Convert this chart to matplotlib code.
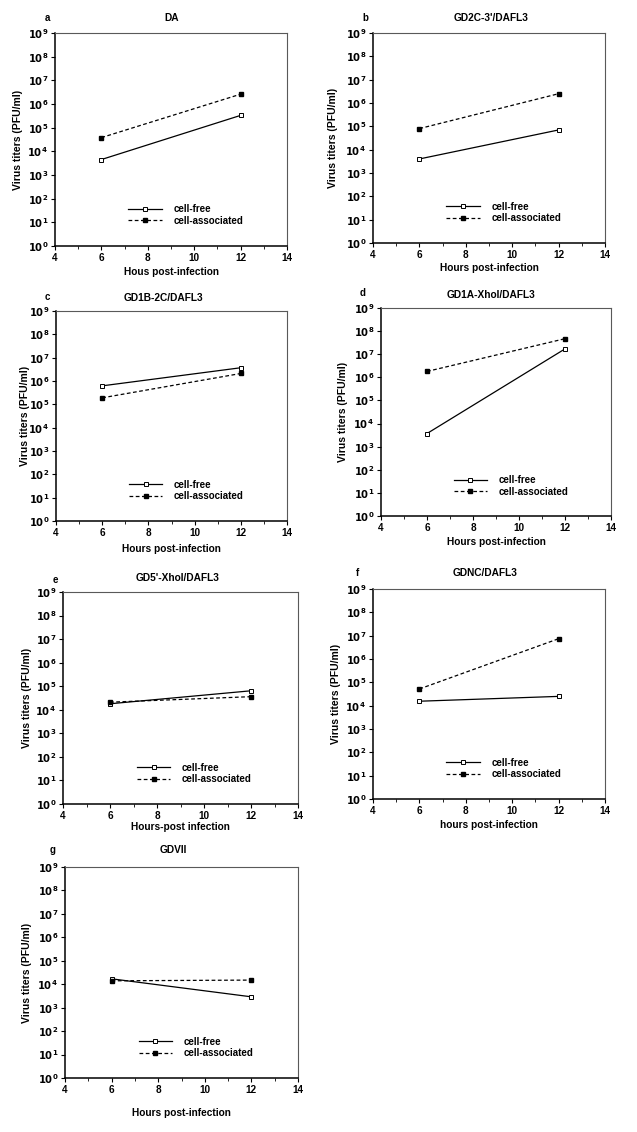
import matplotlib
matplotlib.use("Agg")
import matplotlib.pyplot as plt
from matplotlib.ticker import FixedLocator, FixedFormatter, MultipleLocator

plt.rcParams['font.family'] = ['Liberation Sans', 'DejaVu Sans']
plt.rcParams['font.weight'] = 'bold'

# hours post-infection
hours = [6, 12]

# panel texts
letters = ['a', 'b', 'c', 'd', 'e', 'f', 'g']
titles = ['DA', "GD2C-3'/DAFL3", 'GD1B-2C/DAFL3', 'GD1A-XhoI/DAFL3',
          "GD5'-XhoI/DAFL3", 'GDNC/DAFL3', 'GDVII']
xlabels = ['Hous post-infection', 'Hours post-infection', 'Hours post-infection',
           'Hours post-infection', 'Hours-post infection', 'hours post-infection',
           'Hours post-infection']

# virus titers (PFU/ml) at 6 h and 12 h
cell_free = [
    [4.5e3, 3.3e5],
    [4.0e3, 7.0e4],
    [6.2e5, 3.7e6],
    [3.7e3, 1.7e7],
    [1.8e4, 6.4e4],
    [1.55e4, 2.5e4],
    [1.7e4, 2.9e3],
]
cell_assoc = [
    [3.8e4, 2.6e6],
    [8.0e4, 2.5e6],
    [1.9e5, 2.1e6],
    [1.8e6, 4.7e7],
    [2.1e4, 3.6e4],
    [5.2e4, 7.4e6],
    [1.4e4, 1.5e4],
]

W, H = 637, 1132
# axes boxes in pixels: left, right, top, bottom
boxes = [
    (55, 287, 33, 246),
    (373, 605, 33, 243),
    (56, 287, 311, 521),
    (381, 611, 308, 516),
    (63, 298, 592, 804),
    (373, 605, 589, 799),
    (65, 298, 867, 1078),
]
# title (x, y), letter (x, y), ylabel x, xlabel y in pixels
title_pos = [(172, 18), (491, 18), (163, 298), (491, 295), (178, 578), (485, 573), (173, 850)]
letter_pos = [(47, 18), (365, 18), (47, 297), (363, 293), (55, 580), (358, 573), (53, 850)]
ylabel_x = [18, 333, 25, 343, 27, 336, 27]
xlabel_y = [272, 268, 549, 542, 827, 825, 1113]

fig = plt.figure(figsize=(W / 100, H / 100), dpi=100)

for i in range(7):
    l, r, t, b = boxes[i]
    ax = fig.add_axes([l / W, 1 - b / H, (r - l) / W, (b - t) / H])
    ax.plot(hours, cell_free[i], color='black', lw=0.9, marker='s', ms=2.8,
            mfc='white', mec='black', mew=0.7, label='cell-free')
    ax.plot(hours, cell_assoc[i], color='black', lw=0.9, ls=(0, (3, 2)), marker='s',
            ms=2.8, mfc='black', mec='black', label='cell-associated')
    ax.set_yscale('log')
    ax.set_ylim(1, 1e9)
    ax.set_xlim(4, 14)
    decades = [10.0 ** k for k in range(10)]
    ax.yaxis.set_major_locator(FixedLocator(decades))
    ax.yaxis.set_major_formatter(FixedFormatter([r'$\mathbf{10^{%d}}$' % k for k in range(10)]))
    ax.yaxis.set_minor_locator(FixedLocator([]))
    ax.xaxis.set_major_locator(MultipleLocator(2))
    ax.xaxis.set_minor_locator(MultipleLocator(1))
    ax.tick_params(which='major', length=3, width=0.8, labelsize=7.2, pad=2)
    ax.tick_params(which='minor', length=2, width=0.6)
    for lab in ax.get_xticklabels():
        lab.set_fontweight('bold')
    for side in ['left', 'bottom']:
        ax.spines[side].set_linewidth(1.1)
    for side in ['top', 'right']:
        ax.spines[side].set_linewidth(0.8)
        ax.spines[side].set_color('0.35')
    ax.legend(loc='center left', bbox_to_anchor=(0.30, 0.145), frameon=False,
              fontsize=7.0, handlelength=3.4, numpoints=1, labelspacing=0.15,
              handletextpad=1.2, borderaxespad=0)

    tx, ty = title_pos[i]
    fig.text(tx / W, 1 - ty / H, titles[i], ha='center', va='center', fontsize=7.3,
             fontweight='bold')
    lx, ly = letter_pos[i]
    fig.text(lx / W, 1 - ly / H, letters[i], ha='center', va='center', fontsize=7,
             fontweight='bold')
    fig.text(ylabel_x[i] / W, 1 - (t + b) / 2 / H, 'Virus titers (PFU/ml)', rotation=90,
             ha='center', va='center', fontsize=7.5, fontweight='bold')
    fig.text((l + r) / 2 / W, 1 - xlabel_y[i] / H, xlabels[i], ha='center', va='center',
             fontsize=7.3, fontweight='bold')

fig.savefig('out.png', dpi=100)
